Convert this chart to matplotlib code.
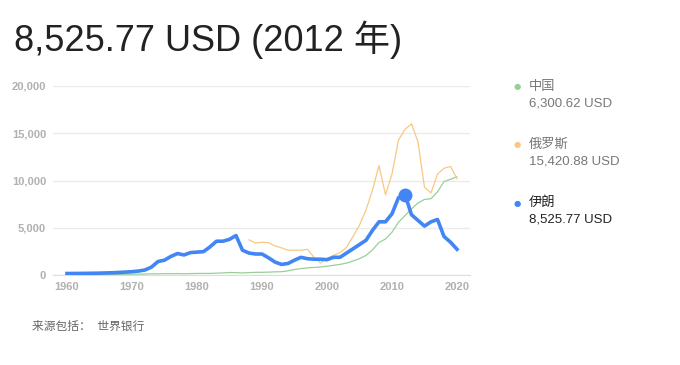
import matplotlib
matplotlib.use("Agg")
import matplotlib.pyplot as plt

plt.rcParams['font.family'] = ['Liberation Sans', 'Noto Sans CJK SC', 'DejaVu Sans']

# data (GDP per capita, USD)
years = list(range(1960, 2021))
china = [89, 75, 70, 74, 85, 98, 104, 96, 91, 100,
         113, 119, 132, 157, 160, 178, 165, 185, 156, 183,
         195, 197, 203, 225, 251, 294, 282, 252, 284, 311,
         318, 333, 366, 377, 474, 610, 709, 782, 829, 873,
         959, 1053, 1149, 1289, 1509, 1753, 2099, 2694, 3468, 3832,
         4550, 5618, 6301, 7020, 7636, 8016, 8094, 8817, 9905, 10144,
         10409]
russia_years = list(range(1988, 2021))
russia = [3750, 3400, 3500, 3450, 3100, 2900, 2650, 2650, 2650, 2750,
          1900, 1300, 1800, 2100, 2400, 2950, 4100, 5300, 6900, 9000,
          11600, 8500, 10700, 14300, 15421, 16000, 14100, 9300, 8700, 10700,
          11300, 11500, 10200]
iran = [190, 195, 200, 205, 215, 230, 250, 270, 300, 340,
        380, 450, 560, 870, 1450, 1600, 2000, 2300, 2150, 2400,
        2450, 2500, 3000, 3600, 3600, 3800, 4200, 2650, 2350, 2250,
        2250, 1850, 1400, 1150, 1250, 1600, 1900, 1750, 1700, 1700,
        1650, 1900, 1900, 2350, 2800, 3250, 3700, 4750, 5650, 5650,
        6500, 8200, 8526, 6400, 5800, 5200, 5650, 5900, 4100, 3500,
        2750]
names = ['中国', '俄罗斯', '伊朗']
values_2012 = ['6,300.62 USD', '15,420.88 USD', '8,525.77 USD']
colors = ['#98cf98', '#f8c883', '#4285f4']

fig = plt.figure(figsize=(6.8, 3.65), dpi=100)
ax = fig.add_axes([53 / 680, 1 - 275.3 / 365, 417 / 680, 189.3 / 365])

ax.plot(years, china, color=colors[0], lw=0.9, zorder=3)
ax.plot(russia_years, russia, color=colors[1], lw=0.9, zorder=3)
ax.plot(years, iran, color=colors[2], lw=2.6, zorder=4, solid_joinstyle='round')
ax.plot([2012], [iran[years.index(2012)]], 'o', color=colors[2], ms=9, zorder=5)

ax.set_xlim(1957.85, 2022)
ax.set_ylim(0, 20000)
ax.set_yticks([0, 5000, 10000, 15000, 20000])
ax.set_yticklabels(['0', '5,000', '10,000', '15,000', '20,000'])
ax.set_xticks(range(1960, 2021, 10))
ax.grid(axis='y', color='#ebebeb', lw=1)
ax.set_axisbelow(True)
for s in ['top', 'right', 'left']:
    ax.spines[s].set_visible(False)
ax.spines['bottom'].set_color('#dddddd')
ax.tick_params(axis='both', length=0, labelsize=8, labelcolor='#b0b0b0', pad=5)
for t in ax.get_xticklabels() + ax.get_yticklabels():
    t.set_fontweight('bold')

fig.text(14 / 680, 1 - 40 / 365, '8,525.77 USD (2012 年)', fontsize=26,
         color='#222222', va='center', ha='left')

# legend
legend_y = [87, 145, 203]
for i in range(3):
    y = legend_y[i]
    txt_color = '#222222' if i == 2 else '#777777'
    fig.text(517 / 680, 1 - y / 365, '●', color=colors[i], fontsize=6,
             va='center', ha='center', family=['DejaVu Sans'])
    fig.text(529 / 680, 1 - y / 365, names[i], color=txt_color, fontsize=9.5,
             va='center', ha='left')
    fig.text(529 / 680, 1 - (y + 16) / 365, values_2012[i], color=txt_color,
             fontsize=9.5, va='center', ha='left')

fig.text(32 / 680, 1 - 327 / 365, '来源包括：  世界银行', color='#666666',
         fontsize=8.5, va='center', ha='left')

fig.savefig('out.png', dpi=100)
